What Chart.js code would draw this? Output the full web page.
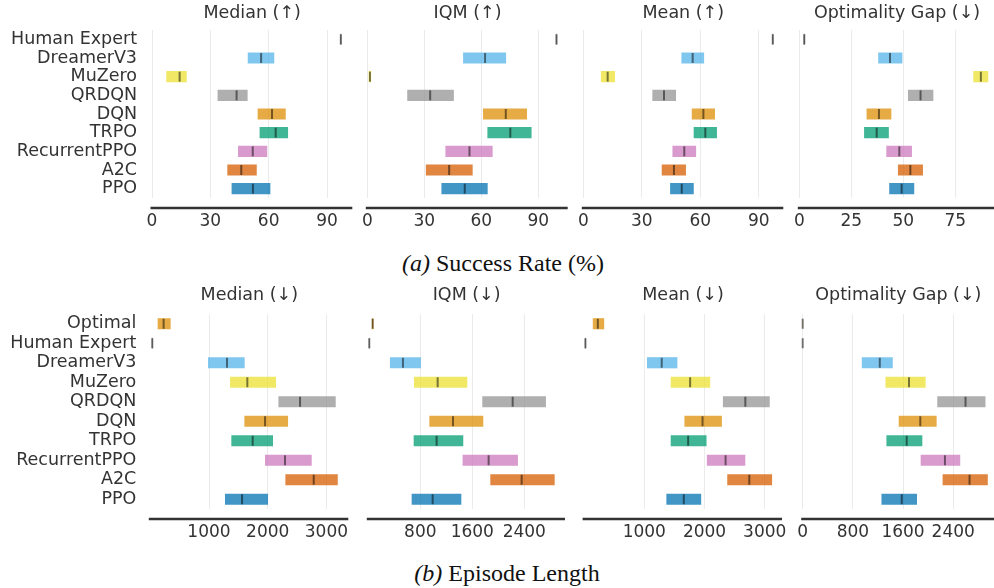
<!DOCTYPE html>
<html>
<head>
<meta charset="utf-8">
<script src="https://cdn.jsdelivr.net/npm/chart.js@4.4.0/dist/chart.umd.min.js"></script>
<style>
  body { margin: 0; width: 994px; height: 588px; overflow: hidden; background: #fff; position: relative; }
  canvas { position: absolute; }
  .caption { position: absolute; width: 400px; text-align: center; font-family: 'Liberation Serif', 'Times New Roman', serif; font-size: 24px; color: #111; }
</style>
</head>
<body>
<div class="caption" style="left:303px; top:250px;"><i>(a)</i> Success Rate (%)</div>
<div class="caption" style="left:307px; top:560px;"><i>(b)</i> Episode Length</div>

<script>
// categories, top to bottom
const topCategories = ['Human Expert', 'DreamerV3', 'MuZero', 'QRDQN', 'DQN', 'TRPO', 'RecurrentPPO', 'A2C', 'PPO'];
const bottomCategories = ['Optimal', ...topCategories];

// (a) success rate (%): interval low / high and point estimate
const srMedianLo = [96.9, 49.4, 7.5, 33.9, 54.5, 55.5, 44.4, 38.9, 41.1];
const srMedianHi = [97.3, 62.7, 17.7, 49.0, 68.6, 69.8, 59.1, 53.7, 60.7];
const srMedianPt = [97.1, 56.1, 14.2, 43.5, 61.7, 63.6, 51.8, 45.9, 51.9];

const srIqmLo = [99.4, 50.6, 0.9, 21.2, 61.1, 63.4, 41.3, 31.0, 39.2];
const srIqmHi = [99.8, 72.9, 1.8, 45.4, 83.9, 86.3, 65.8, 55.3, 63.2];
const srIqmPt = [99.6, 62.0, 1.4, 33.1, 72.9, 75.3, 53.8, 43.1, 51.3];

const srMeanLo = [97.0, 50.5, 9.2, 35.6, 55.8, 56.8, 45.9, 40.4, 44.7];
const srMeanHi = [97.4, 61.8, 16.1, 47.4, 67.4, 68.4, 57.7, 52.5, 56.5];
const srMeanPt = [97.2, 56.1, 12.5, 41.4, 61.6, 62.6, 51.8, 46.5, 50.5];

const srGapLo = [2.2, 38.1, 83.8, 52.4, 32.5, 31.3, 42.0, 47.6, 43.4];
const srGapHi = [2.6, 49.4, 90.7, 64.3, 44.1, 42.9, 54.0, 59.3, 55.1];
const srGapPt = [2.4, 43.6, 87.3, 58.3, 38.3, 37.2, 48.1, 53.4, 49.2];

// (b) episode length
const elMedianLo = [131, 30, 989, 1364, 2188, 1608, 1386, 1960, 2307, 1278];
const elMedianHi = [341, 38, 1602, 2136, 3153, 2341, 2085, 2744, 3188, 2000];
const elMedianPt = [227, 34, 1307, 1653, 2551, 1955, 1744, 2295, 2784, 1563];

const elIqmLo = [60, 12, 338, 708, 1759, 944, 703, 1456, 1882, 672];
const elIqmHi = [74, 18, 805, 1518, 2728, 1764, 1456, 2297, 2862, 1426];
const elIqmPt = [67, 15, 533, 1067, 2221, 1303, 1051, 1851, 2359, 990];

const elMeanLo = [150, 18, 1050, 1444, 2311, 1672, 1444, 2044, 2383, 1372];
const elMeanHi = [328, 26, 1544, 2089, 3078, 2283, 2028, 2672, 3117, 1939];
const elMeanPt = [228, 22, 1289, 1761, 2678, 1967, 1728, 2350, 2744, 1656];

const elGapLo = [0, 0, 948, 1325, 2151, 1536, 1340, 1886, 2236, 1261];
const elGapHi = [0, 0, 1431, 1955, 2909, 2130, 1902, 2506, 2946, 1817];
const elGapPt = [0, 0, 1229, 1695, 2596, 1875, 1658, 2268, 2660, 1579];

// tick labels
const pctTicks = [0, 30, 60, 90];
const gapPctTicks = [0, 25, 50, 75];
const len1000Ticks = [1000, 2000, 3000];
const len800Ticks = [800, 1600, 2400];
const gapLenTicks = [0, 800, 1600, 2400];

const colorOf = {
  'Optimal': '#de8f05',
  'Human Expert': '#949494',
  'DreamerV3': '#56b4e9',
  'MuZero': '#ece133',
  'QRDQN': '#949494',
  'DQN': '#de8f05',
  'TRPO': '#029e73',
  'RecurrentPPO': '#cc78bc',
  'A2C': '#d55e00',
  'PPO': '#0173b2'
};

function withAlpha(hex, a) {
  const n = parseInt(hex.slice(1), 16);
  return 'rgba(' + (n >> 16) + ',' + ((n >> 8) & 255) + ',' + (n & 255) + ',' + a + ')';
}

Chart.defaults.font.family = "'DejaVu Sans', sans-serif";
Chart.defaults.color = '#333';

// bottom spine, a bit below the plot like seaborn's despine(offset)
const spine = {
  id: 'spine',
  afterDraw(chart) {
    const {ctx, chartArea} = chart;
    const y = chartArea.bottom + 10;
    ctx.save();
    ctx.strokeStyle = '#333';
    ctx.lineWidth = 2.5;
    ctx.beginPath();
    ctx.moveTo(chartArea.left - 1.5, y);
    ctx.lineTo(chartArea.right, y);
    ctx.stroke();
    ctx.restore();
  }
};

const rows = [
  {top: 0, areaTop: 30, areaBottom: 198, labelPad: 15},
  {top: 282, areaTop: 314, areaBottom: 509, labelPad: 14}
];

const panels = [
  {row: 0, title: 'Median (\u2191)', cats: topCategories, lo: srMedianLo, hi: srMedianHi, pt: srMedianPt, ticks: pctTicks, max: 103, left: 152, right: 352.3, labels: true},
  {row: 0, title: 'IQM (\u2191)', cats: topCategories, lo: srIqmLo, hi: srIqmHi, pt: srIqmPt, ticks: pctTicks, max: 105.5, left: 367.3, right: 567.7},
  {row: 0, title: 'Mean (\u2191)', cats: topCategories, lo: srMeanLo, hi: srMeanHi, pt: srMeanPt, ticks: pctTicks, max: 102.6, left: 583.3, right: 783.3},
  {row: 0, title: 'Optimality Gap (\u2193)', cats: topCategories, lo: srGapLo, hi: srGapHi, pt: srGapPt, ticks: gapPctTicks, max: 94, left: 799.3, right: 994.8},
  {row: 1, title: 'Median (\u2193)', cats: bottomCategories, lo: elMedianLo, hi: elMedianHi, pt: elMedianPt, ticks: len1000Ticks, max: 3373, left: 150.3, right: 348.3, labels: true},
  {row: 1, title: 'IQM (\u2193)', cats: bottomCategories, lo: elIqmLo, hi: elIqmHi, pt: elIqmPt, ticks: len800Ticks, max: 3026, left: 368.3, right: 565},
  {row: 1, title: 'Mean (\u2193)', cats: bottomCategories, lo: elMeanLo, hi: elMeanHi, pt: elMeanPt, ticks: len1000Ticks, max: 3287, left: 584.1, right: 782},
  {row: 1, title: 'Optimality Gap (\u2193)', cats: bottomCategories, lo: elGapLo, hi: elGapHi, pt: elGapPt, ticks: gapLenTicks, max: 3050, left: 802.7, right: 994}
];

panels.forEach(p => {
  const row = rows[p.row];
  const canvasLeft = p.labels ? 0 : Math.floor(p.left) - 20;
  const yWidth = p.left - canvasLeft;
  const width = Math.ceil(p.right - canvasLeft) + 30;
  const height = row.areaBottom - row.top + 40;

  const canvas = document.createElement('canvas');
  canvas.width = width;
  canvas.height = height;
  canvas.style.left = canvasLeft + 'px';
  canvas.style.top = row.top + 'px';
  document.body.appendChild(canvas);

  new Chart(canvas, {
    type: 'bar',
    data: {
      labels: p.cats,
      datasets: [
        {
          type: 'bar',
          order: 1,
          data: p.lo.map((v, i) => [v, p.hi[i]]),
          backgroundColor: p.cats.map(c => withAlpha(colorOf[c], 0.75)),
          borderWidth: 0,
          borderSkipped: false,
          barThickness: 10.5,
          grouped: false
        },
        {
          type: 'scatter',
          order: 0,
          data: p.pt.map((v, i) => ({x: v, y: p.cats[i]})),
          pointStyle: 'line',
          rotation: 90,
          radius: 5,
          borderWidth: 2,
          borderColor: 'rgba(0,0,0,0.5)',
          clip: false
        }
      ]
    },
    options: {
      indexAxis: 'y',
      responsive: false,
      animation: false,
      events: [],
      layout: {padding: {left: 0, top: 0, bottom: 0, right: width - (p.right - canvasLeft)}},
      plugins: {
        legend: {display: false},
        tooltip: {enabled: false},
        title: {
          display: true,
          text: p.title,
          fullSize: false,
          color: '#333',
          font: {size: 17.5, weight: 'normal', lineHeight: 1.2},
          padding: {top: 2.5, bottom: row.areaTop - row.top - 2.5 - 21}
        }
      },
      scales: {
        x: {
          type: 'linear',
          min: 0,
          max: p.max,
          afterBuildTicks: s => { s.ticks = p.ticks.map(v => ({value: v})); },
          afterFit: s => { s.height = 40; },
          grid: {color: '#ebebeb', lineWidth: 1, drawTicks: false},
          border: {display: false},
          ticks: {color: '#333', font: {size: 17}, padding: 13, maxRotation: 0, callback: v => String(v)}
        },
        y: {
          type: 'category',
          offset: true,
          afterFit: s => { s.width = yWidth; },
          grid: {display: false, drawTicks: false},
          border: {display: false},
          ticks: {display: !!p.labels, autoSkip: false, color: '#333', font: {size: 17.5}, padding: row.labelPad}
        }
      }
    },
    plugins: [spine]
  });
});
</script>
</body>
</html>
